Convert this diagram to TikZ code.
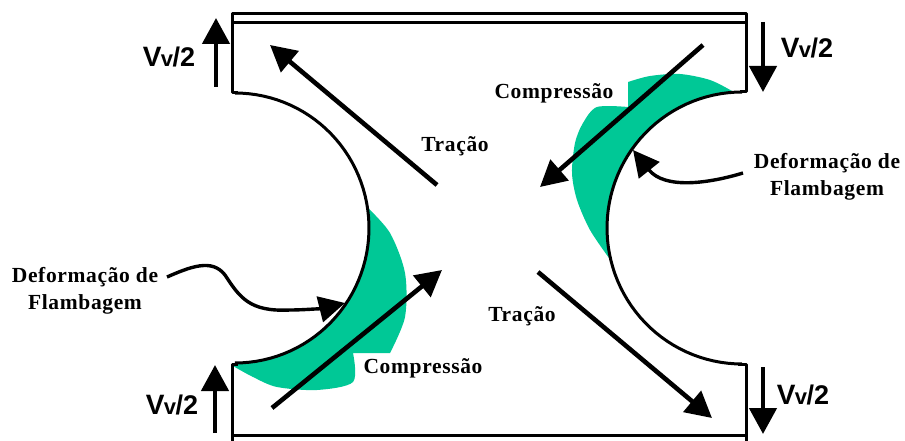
\documentclass[tikz,border=0pt]{standalone}
\usepackage{fontspec}
\newfontfamily\labfont[LetterSpace=3]{Liberation Serif}
\newfontfamily\vfont{Liberation Sans}
\usetikzlibrary{arrows.meta}
\definecolor{flamb}{RGB}{0,200,150}
\newcommand{\vvtext}{{\fontsize{28}{30}\selectfont V}\kern-0.5pt{\fontsize{22}{30}\selectfont v}\kern-0.5pt{\fontsize{27}{30}\selectfont /2}}
\tikzset{
  frameline/.style={line width=3pt,black,line join=round},
  bigarrow/.style={line width=4.6pt,black,-{Triangle[length=26pt,width=27pt]}},
  curvearrow/.style={line width=3.4pt,black,-{Triangle[length=26pt,width=26pt]}},
  lab/.style={font=\labfont\fontsize{21.5}{25}\selectfont\bfseries,align=center,inner sep=0pt},
  vv/.style={font=\vfont\bfseries,inner sep=0pt},
}
\begin{document}
\begin{tikzpicture}[x=1pt,y=-1pt]
\useasboundingbox (0,0) rectangle (905,441);
% green zones
\fill[flamb] (367,207) -- plot[smooth] coordinates {(367,207) (390,233) (405,273) (405,317) (390,353)} -- (353,353) -- plot[smooth] coordinates {(353,353) (353,382) (317,390) (277,387) (253,377) (233,366)} -- plot[domain=90:-9,samples=40] ({235+134*cos(\x)},{228+135*sin(\x)}) -- cycle;
\fill[flamb] (732,91) -- plot[smooth] coordinates {(732,91) (710,80) (680,74) (650,76) (628,82)} -- (628,107) -- plot[smooth] coordinates {(628,107) (597,107) (583,123) (575,143) (572,173) (577,200) (590,230) (609,258)} -- plot[domain=166:265,samples=40] ({742+135*cos(\x)},{228+136*sin(\x)}) -- cycle;
% frames
\draw[frameline] (746,23) -- (232,23);
\draw[frameline] (238,93) -- (232,93) -- (232,14) -- (746,14) -- (746,92) -- (740,92);
\draw[frameline] (232,441) -- (232,364) -- (238,364);
\draw[frameline] (738,364) -- (746,364) -- (746,441);
\draw[frameline] (232,435) -- (746,435);
\draw[frameline] plot[domain=-90:90,samples=60] ({235+134*cos(\x)},{228+135*sin(\x)});
\draw[frameline] plot[domain=90:270,samples=60] ({742+135*cos(\x)},{228+136*sin(\x)});
% anchors
\coordinate (tlS) at (437,185); \coordinate (tlE) at (270,45);
\coordinate (trS) at (703,45);  \coordinate (trE) at (540,187);
\coordinate (brS) at (538,272); \coordinate (brE) at (712,418);
\coordinate (blS) at (272,408); \coordinate (blE) at (442,270);
\draw[bigarrow] (tlS) -- (tlE);
\draw[bigarrow] (trS) -- (trE);
\draw[bigarrow] (brS) -- (brE);
\draw[bigarrow] (blS) -- (blE);
\coordinate (a1S) at (216,87);  \coordinate (a1E) at (216,18);
\coordinate (a2S) at (763,22);  \coordinate (a2E) at (763,92);
\coordinate (a3S) at (215,433); \coordinate (a3E) at (215,365);
\coordinate (a4S) at (763,367); \coordinate (a4E) at (763,434);
\draw[bigarrow] (a1S) -- (a1E);
\draw[bigarrow] (a2S) -- (a2E);
\draw[bigarrow] (a3S) -- (a3E);
\draw[bigarrow] (a4S) -- (a4E);
% labels
\node[vv] (v1) at (169,57) {\vvtext};
\node[vv] (v2) at (807,48) {\vvtext};
\node[vv] (v3) at (172,405) {\vvtext};
\node[vv] (v4) at (803,395) {\vvtext};
\node[lab] (t1) at (455,146) {Tração};
\node[lab] (t2) at (522,316) {Tração};
\node[lab] (c1) at (554,93) {Compressão};
\node[lab] (c2) at (423,368) {Compressão};
\node[lab] (d1) at (85,291) {Deformação de\\[2pt]Flambagem};
\node[lab] (d2) at (827,177) {Deformação de\\[2pt]Flambagem};
% curved arrows
\coordinate (c1E) at (345,303);
\coordinate (c2E) at (633,150);
\draw[curvearrow] (167,277) .. controls (190,267) and (212,258) .. (225,275) .. controls (240,298) and (250,312) .. (290,310) .. controls (305,310) and (325,308) .. (c1E);
\draw[curvearrow] (743,173) .. controls (710,183) and (665,190) .. (c2E);
\end{tikzpicture}
\end{document}
